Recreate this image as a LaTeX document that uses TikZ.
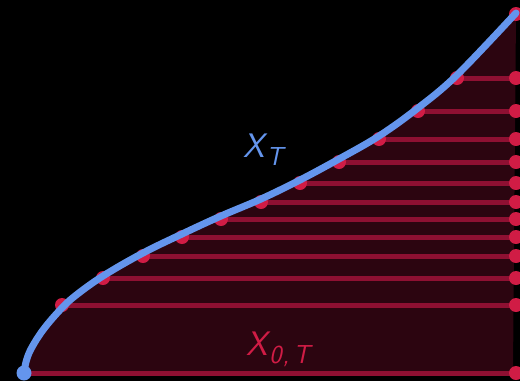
\documentclass[tikz,border=0pt]{standalone}
\definecolor{bgc}{HTML}{000000}
\definecolor{regfill}{HTML}{2C0510}
\definecolor{linered}{HTML}{8E1032}
\definecolor{dotred}{HTML}{D01C45}
\definecolor{curveblue}{HTML}{6495ED}
\newcommand{\biglbl}[2]{\fontsize{34}{36}\selectfont\sffamily\itshape #1\kern2pt\raisebox{-8pt}{\fontsize{26}{28}\selectfont #2}}
\begin{document}
\begin{tikzpicture}[x=1pt,y=-1pt,
  hline/.style={draw=linered,line width=5pt},
  reddot/.style={circle,fill=dotred,inner sep=0pt,minimum size=14pt},
  bluedot/.style={circle,fill=curveblue,inner sep=0pt,minimum size=15pt},
  bluecurve/.style={draw=curveblue,line width=7pt,line cap=round},
  redcurve/.style={draw=dotred,line width=4pt},
  lbl/.style={inner sep=0pt,anchor=base west}]
\fill[bgc] (0,0) rectangle (520,381);
\useasboundingbox (0,0) rectangle (520,381);
% blue curve points
\coordinate (b0) at (24,373);
\coordinate (b1) at (26,362);
\coordinate (b2) at (31,349);
\coordinate (b3) at (43,330);
\coordinate (b4) at (60,310);
\coordinate (b5) at (75,296);
\coordinate (b6) at (103,276);
\coordinate (b7) at (143,253);
\coordinate (b8) at (182,234);
\coordinate (b9) at (221,216);
\coordinate (b10) at (261,199);
\coordinate (b11) at (300,180);
\coordinate (b12) at (339,159);
\coordinate (b13) at (379,136);
\coordinate (b14) at (418,108);
\coordinate (b15) at (457,75);
\coordinate (b16) at (516,13);
% dots on curve
\coordinate (p1) at (62,305);
\coordinate (p2) at (103,278);
\coordinate (p3) at (143,256);
\coordinate (p4) at (182,237);
\coordinate (p5) at (221,219);
\coordinate (p6) at (261,202);
\coordinate (p7) at (300,183);
\coordinate (p8) at (339,162);
\coordinate (p9) at (379,139);
\coordinate (p10) at (418,111);
\coordinate (p11) at (457,78);
\coordinate (p12) at (516,14);
\coordinate (p0) at (26,373);
% right edge
\foreach \i/\y in {0/373,1/305,2/278,3/256,4/237,5/219,6/202,7/183,8/162,9/139,10/111,11/78,12/14}
  \coordinate (r\i) at (516,\y);
\def\curvepts{(b0) (b1) (b2) (b3) (b4) (b5) (b6) (b7) (b8) (b9) (b10) (b11) (b12) (b13) (b14) (b15) (b16)}
% region
\begin{scope}[xshift=3pt,yshift=-2pt]
\fill[regfill] plot[smooth,tension=0.6] coordinates {\curvepts} -- ([xshift=-3pt,yshift=2pt]r0) -- cycle;
\end{scope}
% horizontal lines
\draw[hline] (p0) -- (r0);
\foreach \i in {1,...,11} \draw[hline] (p\i) -- (r\i);
% red curve
\draw[redcurve,xshift=3pt,yshift=-2pt] plot[smooth,tension=0.6] coordinates {\curvepts};
% dots
\foreach \i in {1,...,12} \node[reddot] (cd\i) at (p\i) {};
\foreach \i in {0,...,11} \node[reddot] (rd\i) at (r\i) {};
% blue curve
\draw[bluecurve] plot[smooth,tension=0.6] coordinates {\curvepts};
\node[bluedot] (start) at (b0) {};
% labels
\node[lbl,text=curveblue] (xt) at (243,157) {\biglbl{X}{T}};
\node[lbl,text=dotred] (x0t) at (246,355) {\biglbl{X}{0\kern1pt,\kern4pt T}};
\end{tikzpicture}
\end{document}
